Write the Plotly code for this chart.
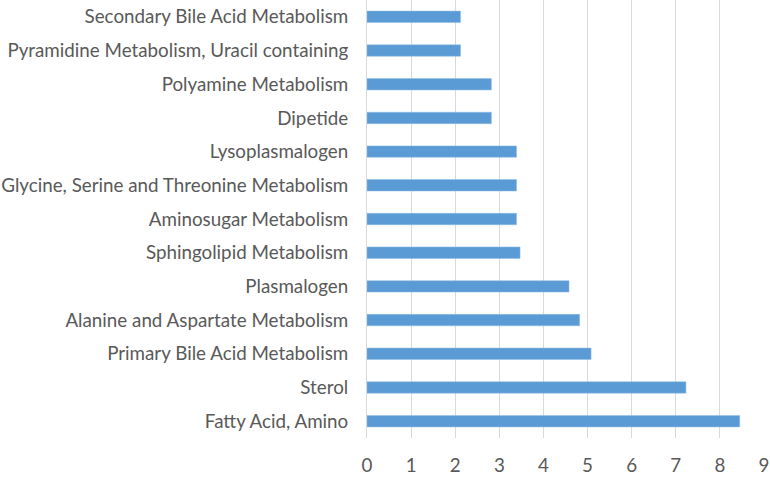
import plotly.graph_objects as go

categories = [
    "Fatty Acid, Amino",
    "Sterol",
    "Primary Bile Acid Metabolism",
    "Alanine and Aspartate Metabolism",
    "Plasmalogen",
    "Sphingolipid Metabolism",
    "Aminosugar Metabolism",
    "Glycine, Serine and Threonine Metabolism",
    "Lysoplasmalogen",
    "Dipetide",
    "Polyamine Metabolism",
    "Pyramidine Metabolism, Uracil containing",
    "Secondary Bile Acid Metabolism",
]
values = [8.45, 7.23, 5.08, 4.82, 4.58, 3.47, 3.39, 3.39, 3.39, 2.82, 2.82, 2.12, 2.12]
x_ticks = [0, 1, 2, 3, 4, 5, 6, 7, 8, 9]

fig = go.Figure(go.Bar(
    y=categories, x=values, orientation="h",
    marker=dict(color="#5b9bd5", line=dict(color="#8fbce6", width=0.5)),
    width=0.34,
))

fig.update_layout(
    width=770, height=480,
    margin=dict(l=367, r=6, t=0, b=42),
    plot_bgcolor="white", paper_bgcolor="white",
    font=dict(family="Lato, Open Sans, sans-serif", size=18.8, color="#595959"),
    showlegend=False,
)
fig.update_xaxes(
    range=[0, 9], tickvals=x_ticks, showgrid=True, gridcolor="#d9d9d9", gridwidth=1,
    zeroline=False, showline=False, ticks="", ticklabelstandoff=14,
    tickfont=dict(size=18.8, color="#595959"), automargin=False,
)
fig.update_yaxes(
    categoryorder="array", categoryarray=categories,
    showline=True, linecolor="#d9d9d9", linewidth=1, ticks="",
    ticklabelstandoff=14, tickfont=dict(size=18.8, color="#595959"),
    range=[-0.5, 12.5], automargin=False,
)

fig.write_html(
    "out.html",
    config={"displayModeBar": False},
    post_script="document.body.style.margin='0';",
)
